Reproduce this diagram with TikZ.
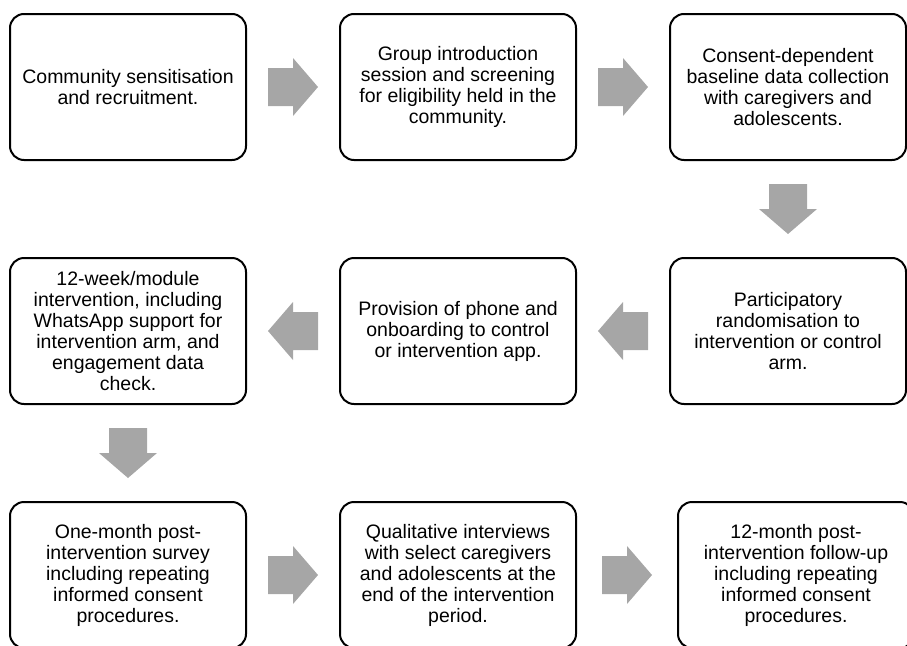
\documentclass[tikz,border=0pt]{standalone}
\usepackage{fontspec}
\setmainfont{Liberation Sans}
\usetikzlibrary{calc}
\definecolor{arrowgrey}{RGB}{166,166,166}
\newcommand{\stagebox}[3]{%
 \node[stage] ({#1}) at ({#2}) {#3};%
}
\newcommand{\greyarrow}[3]{%
 \coordinate ({#1}) at (#2);%
 \fill[arrowgrey,shift={(#1)},rotate=#3] (-25,-19) -- (0,-19) -- (0,-29) -- (25,0) -- (0,29) -- (0,19) -- (-25,19) -- cycle;%
}
\tikzset{
 stage/.style={draw=black,line width=2pt,rounded corners=14pt,minimum width=236pt,minimum height=146pt,inner sep=0pt,align=center,font=\fontsize{19.5}{21}\selectfont}
}

\begin{document}
\begin{tikzpicture}[x=1pt,y=-1pt]
   \useasboundingbox (0,0) rectangle (907,645);
   \clip (0,0) rectangle (907,645);
   \stagebox{s1}{128,87}{Community sensitisation\\and recruitment.};
   \stagebox{s2}{458,87}{Group introduction\\session and screening\\for eligibility held in the\\community.};
   \stagebox{s3}{788,87}{Consent-dependent\\baseline data collection\\with caregivers and\\adolescents.};
   \stagebox{s4}{788,331}{Participatory\\randomisation to\\intervention or control\\arm.};
   \stagebox{s5}{458,331}{Provision of phone and\\onboarding to control\\or intervention app.};
   \stagebox{s6}{128,331}{12-week/module\\intervention, including\\WhatsApp support for\\intervention arm, and\\engagement data\\check.};
   \stagebox{s7}{128,575}{One-month post-\\intervention survey\\including repeating\\informed consent\\procedures.};
   \stagebox{s8}{458,575}{Qualitative interviews\\with select caregivers\\and adolescents at the\\end of the intervention\\period.};
   \stagebox{s9}{796,575}{12-month post-\\intervention follow-up\\including repeating\\informed consent\\procedures.};
   % block arrows between the stages
   \greyarrow{a12}{$(s1.east)!.5!(s2.west)$}{0};
   \greyarrow{a23}{$(s2.east)!.5!(s3.west)$}{0};
   \greyarrow{a34}{$(s3.south)!.5!(s4.north)$}{-90};
   \greyarrow{a45}{$(s4.west)!.5!(s5.east)$}{180};
   \greyarrow{a56}{$(s5.west)!.5!(s6.east)$}{180};
   \greyarrow{a67}{$(s6.south)!.5!(s7.north)$}{-90};
   \greyarrow{a78}{$(s7.east)!.5!(s8.west)$}{0};
   \greyarrow{a89}{$(s8.east)!.5!(s9.west)$}{0};
\end{tikzpicture}
\end{document}
